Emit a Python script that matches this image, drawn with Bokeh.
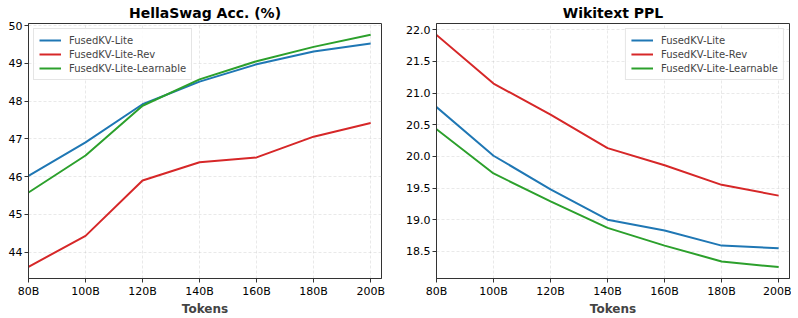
from bokeh.plotting import figure
from bokeh.layouts import row
from bokeh.models import FixedTicker, Range1d, Legend, LegendItem
from bokeh.embed import file_html
from bokeh.resources import INLINE

tokens = [80, 100, 120, 140, 160, 180, 200]
tick_labels = ["80B", "100B", "120B", "140B", "160B", "180B", "200B"]
series_names = ["FusedKV-Lite", "FusedKV-Lite-Rev", "FusedKV-Lite-Learnable"]
colors = ["#1f77b4", "#d62728", "#2ca02c"]

hs_lite = [46.02, 46.91, 47.92, 48.52, 48.98, 49.32, 49.53]
hs_rev = [43.61, 44.43, 45.90, 46.38, 46.51, 47.06, 47.42]
hs_learn = [45.58, 46.56, 47.88, 48.58, 49.06, 49.44, 49.76]

wt_lite = [20.78, 20.01, 19.48, 19.00, 18.83, 18.59, 18.55]
wt_rev = [21.92, 21.15, 20.66, 20.13, 19.86, 19.55, 19.38]
wt_learn = [20.43, 19.73, 19.29, 18.87, 18.59, 18.34, 18.25]

FONT = "DejaVu Sans"


def make(title, ys, yr, yticks, yfmt, loc, mbl, mbr):
    p = figure(frame_width=353, frame_height=255, output_backend="svg", toolbar_location=None,
               x_range=Range1d(80, 203.8), y_range=Range1d(*yr),
               min_border_left=mbl, min_border_right=mbr, min_border_top=0, min_border_bottom=0)
    p.title.text = title
    p.title.align = "center"
    p.title.text_font = FONT
    p.title.text_font_size = "14px"
    p.title.text_font_style = "bold"
    p.title.text_color = "black"
    p.title.offset = 0
    p.title.standoff = 5
    items = []
    for name, y, c in zip(series_names, ys, colors):
        r = p.line(tokens, y, line_color=c, line_width=2)
        items.append(LegendItem(label=name, renderers=[r]))
    leg = Legend(items=items, location=loc)
    leg.label_text_font = FONT
    leg.label_text_font_size = "10px"
    leg.label_height = 12
    leg.glyph_height = 12
    leg.glyph_width = 22
    leg.spacing = 2
    leg.padding = 5
    leg.margin = 5
    leg.label_standoff = 8
    leg.border_line_color = "#cccccc"
    leg.background_fill_alpha = 0.85
    p.add_layout(leg)

    p.xaxis.ticker = FixedTicker(ticks=tokens)
    p.xaxis.major_label_overrides = {t: l for t, l in zip(tokens, tick_labels)}
    p.yaxis.ticker = FixedTicker(ticks=yticks)
    p.yaxis.major_label_overrides = {t: (yfmt % t) for t in yticks}
    p.xaxis.axis_label = "Tokens"
    p.xaxis.axis_label_text_font = FONT
    p.xaxis.axis_label_text_font_size = "12px"
    p.xaxis.axis_label_text_font_style = "bold"
    p.xaxis.axis_label_standoff = 1
    for ax in (p.xaxis, p.yaxis):
        ax.major_label_text_font = FONT
        ax.major_label_text_font_size = "11px"
        ax.major_label_text_color = "black"
        ax.minor_tick_line_color = None
        ax.major_tick_out = 4
        ax.major_tick_in = 0
        ax.major_label_standoff = 2
        ax.axis_line_color = "#333333"
        ax.major_tick_line_color = "#333333"
    p.outline_line_color = "#333333"
    p.outline_line_alpha = 1
    p.grid.grid_line_color = "#b0b0b0"
    p.grid.grid_line_alpha = 0.35
    p.grid.grid_line_dash = "3 2"
    p.grid.grid_line_width = 0.8
    return p


p1 = make("HellaSwag Acc. (%)", [hs_lite, hs_rev, hs_learn], (43.30, 50.06),
          [44, 45, 46, 47, 48, 49, 50], "%d", "top_left", 28, 20)
p2 = make("Wikitext PPL", [wt_lite, wt_rev, wt_learn], (18.07, 22.10),
          [18.5, 19.0, 19.5, 20.0, 20.5, 21.0, 21.5, 22.0], "%.1f", "top_right", 35, 2)

layout = row(p1, p2)
open("out.html", "w").write(file_html(layout, INLINE))
